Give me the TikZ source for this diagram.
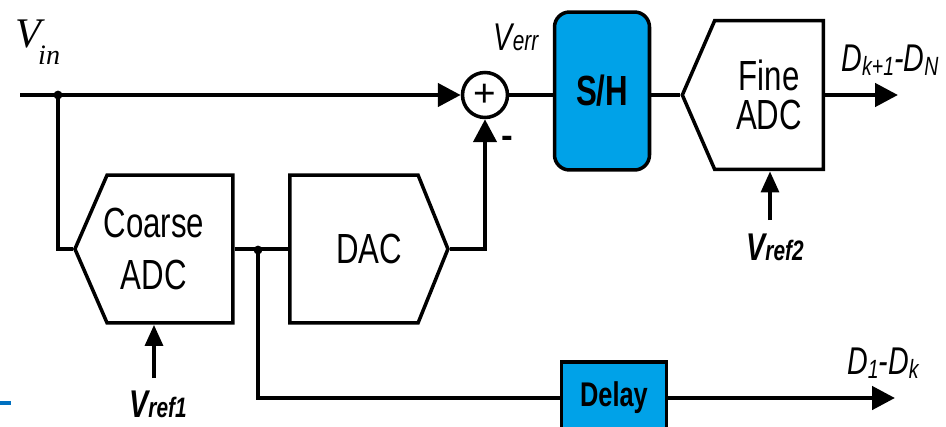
\documentclass[tikz,border=0pt]{standalone}
\usepackage{fontspec}
\setmainfont{Liberation Sans}
\newfontfamily\blockfont[FakeStretch=0.74]{Liberation Sans}
\newfontfamily\serifit{Liberation Serif}
\usetikzlibrary{arrows.meta,shapes.symbols,positioning,calc}
\definecolor{shblue}{RGB}{0,162,232}
\definecolor{slideblue}{RGB}{0,112,192}
\tikzset{
  sig/.style={line width=2.6pt},
  blk/.style={draw, line width=2pt, align=center, inner sep=0pt,
    font=\blockfont\fontsize{24}{30}\selectfont},
  blktext/.style={align=center, inner sep=0pt, font=\blockfont\fontsize{24}{30}\selectfont},
  adcbox/.style={blk, signal, signal to=west, signal pointer angle=133},
  dacbox/.style={blk, signal, signal to=east, signal pointer angle=136},
  arr/.style={-{Triangle[length=13pt,width=13pt]}},
  refarr/.style={line width=2.4pt, -{Triangle[length=12pt,width=10pt]}},
  lbl/.style={inner sep=0pt, font=\blockfont\itshape},
  dot/.style={circle, fill, inner sep=0pt, minimum size=5pt},
}
\begin{document}
\begin{tikzpicture}[x=0.02cm, y=-0.02cm]
  \useasboundingbox (0,0) rectangle (946,426);

  % blocks
  \node[adcbox, minimum width=3.16cm, minimum height=2.96cm] (cadc) at (170,249) {};
  \node[blktext] (cadctxt) at ($(cadc.west)!0.5!(cadc.east)$) {Coarse\\ADC};
  \node[dacbox, minimum width=3.16cm, minimum height=2.96cm] (dac) at (354,249) {};
  \node[blktext] (dactxt) at ($(dac.west)!0.5!(dac.east)$) {DAC};
  \node[draw, circle, line width=2pt, minimum size=0.9cm, inner sep=0pt,
    font=\fontsize{22}{22}\selectfont] (sum) at (485,95) {+};
  \node[blk, rounded corners=0.3cm, fill=shblue, minimum width=1.9cm, minimum height=3.16cm,
    font=\blockfont\bfseries\fontsize{24}{30}\selectfont] (sh) at (602,91) {S/H};
  \node[adcbox, minimum width=2.82cm, minimum height=2.98cm,
    font=\blockfont\fontsize{24}{22}\selectfont] (fadc) at (769,95) {Fine\\ADC};
  \node[blk, fill=shblue, minimum width=2.1cm, minimum height=1.44cm,
    font=\blockfont\bfseries\fontsize{19.5}{19.5}\selectfont] (delay) at (614,398) {Delay};

  % labels
  \node[inner sep=0pt, font=\serifit\itshape\fontsize{24}{24}\selectfont] (vin) at (38,42)
    {V\kern-2pt\raisebox{-10pt}{\fontsize{16}{16}\selectfont in}};
  \node[lbl, font=\blockfont\itshape\fontsize{22}{22}\selectfont] (verr) at (516,37)
    {V{\fontsize{16}{16}\selectfont err}};
  \node[inner sep=0pt, font=\bfseries\fontsize{20}{20}\selectfont] (minus) at (507,142) {-};
  \node[lbl, font=\blockfont\itshape\fontsize{22}{22}\selectfont] (dhi) at (890,60)
    {D\raisebox{-2pt}{\fontsize{15}{15}\selectfont k+1}-D\raisebox{-2pt}{\fontsize{15}{15}\selectfont N}};
  \node[lbl, font=\blockfont\itshape\fontsize{22}{22}\selectfont] (dlo) at (883,363)
    {D\raisebox{-2pt}{\fontsize{15}{15}\selectfont 1}-D\raisebox{-2pt}{\fontsize{15}{15}\selectfont k}};
  \node[lbl, font=\blockfont\bfseries\itshape\fontsize{22}{22}\selectfont] (vref1) at (158,404)
    {V{\fontsize{16}{16}\selectfont ref1}};
  \node[lbl, font=\blockfont\bfseries\itshape\fontsize{22}{22}\selectfont] (vref2) at (775,247)
    {V{\fontsize{16}{16}\selectfont ref2}};

  % connector ends and branch points
  \coordinate (in) at (20,95);
  \coordinate (j1) at (58,95);
  \coordinate (j2) at (258,250);
  \coordinate (out1) at (898,95);
  \coordinate (out2) at (895,398);
  \coordinate (r1) at (154,378);
  \coordinate (r2) at (770,220);

  % signal paths
  \draw[sig, arr] (in) -- (sum.west);
  \draw[sig] (j1) |- (cadc.west);
  \draw[sig] (cadc.east) -- (dac.west);
  \draw[sig, arr] (dac.east) -| (sum.south);
  \draw[sig] (sum.east) -- (sum.east -| sh.west);
  \draw[sig] (sum.east -| sh.east) -- (fadc.west);
  \draw[sig, arr] (fadc.east) -- (out1);
  \draw[sig] (j2) |- (delay.west);
  \draw[sig, arr] (delay.east) -- (out2);
  \draw[refarr] (r1) -- (r1 |- cadc.south);
  \draw[refarr] (r2) -- (r2 |- fadc.south);
  \node[dot] at (j1) {};
  \node[dot] at (j2) {};

  \draw[slideblue, line width=2.3pt] (0,403) -- (11,403);
\end{tikzpicture}
\end{document}
